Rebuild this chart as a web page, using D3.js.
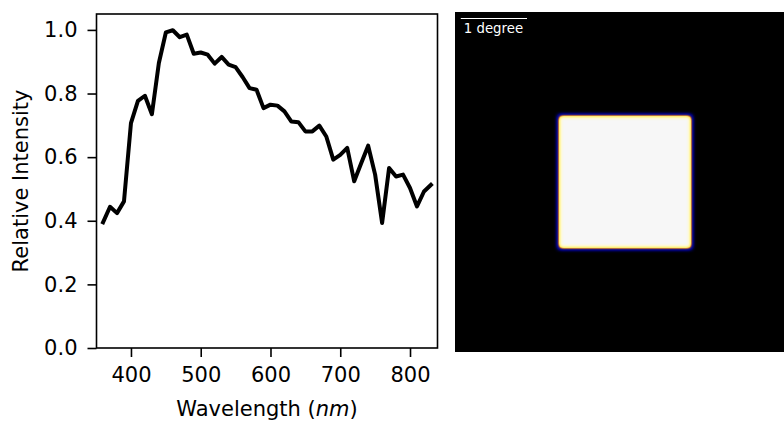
<!DOCTYPE html>
<html>
<head>
<meta charset="utf-8">
<script src="https://cdn.jsdelivr.net/npm/d3@7"></script>
<style>
  body { margin: 0; background: #fff; }
  svg { display: block; font-family: "DejaVu Sans", sans-serif; }
</style>
</head>
<body>
<div id="vis"></div>
<script>
const FRAME_WIDTH = 784;
const FRAME_HEIGHT = 423;

// spectrum data (nm, relative intensity)
const wavelengths = [360, 370, 380, 390, 400, 410, 420, 430, 440, 450, 460, 470, 480, 490, 500,
  510, 520, 530, 540, 550, 560, 570, 580, 590, 600, 610, 620, 630, 640, 650, 660, 670, 680, 690,
  700, 710, 720, 730, 740, 750, 760, 770, 780, 790, 800, 810, 820, 830];
const intensity = [0.395, 0.444, 0.424, 0.461, 0.707, 0.777, 0.793, 0.735, 0.896, 0.992, 0.999, 0.977, 0.985, 0.925, 0.929,
  0.922, 0.894, 0.915, 0.891, 0.883, 0.852, 0.817, 0.812, 0.754, 0.765, 0.762, 0.744, 0.712, 0.710, 0.681, 0.681, 0.699, 0.665, 0.592,
  0.607, 0.629, 0.524, 0.581, 0.636, 0.545, 0.393, 0.566, 0.539, 0.545, 0.503, 0.445, 0.492, 0.513];
const xTicks = [400, 500, 600, 700, 800];
const yTicks = [0.0, 0.2, 0.4, 0.6, 0.8, 1.0];

// stimulus image, in degrees of visual angle
const fieldDeg = [-2.56, 2.56];
const squareDeg = [-1, 1];
const scaleBarDeg = [-2.48, -1.48];
const scaleBarLabel = '1 degree';

const PLOT = {left: 96.5, right: 437.5, top: 14, bottom: 348};
const IMG = {left: 455.5, top: 12.5, size: 339};
const FONT = '21px';

const svg = d3.select('#vis')
  .append('svg')
    .attr('width', FRAME_WIDTH)
    .attr('height', FRAME_HEIGHT);

// ---- left: spectrum ----
const X_SCALE = d3.scaleLinear().domain([350.6, 839.4]).range([PLOT.left, PLOT.right]);
const Y_SCALE = d3.scaleLinear().domain([0, 1.05]).range([PLOT.bottom, PLOT.top]);

const line = d3.line()
  .x((d, i) => X_SCALE(wavelengths[i]))
  .y(d => Y_SCALE(d));

svg.append('path')
  .datum(intensity)
  .attr('d', line)
  .attr('fill', 'none')
  .attr('stroke', '#000')
  .attr('stroke-width', 4)
  .attr('stroke-linejoin', 'round')
  .attr('stroke-linecap', 'square');

const xAxis = svg.append('g')
  .attr('transform', 'translate(0,' + PLOT.bottom + ')')
  .call(d3.axisBottom(X_SCALE).tickValues(xTicks).tickSize(9).tickPadding(10));

const yAxis = svg.append('g')
  .attr('transform', 'translate(' + PLOT.left + ',0)')
  .call(d3.axisLeft(Y_SCALE).tickValues(yTicks).tickFormat(d3.format('.1f')).tickSize(9).tickPadding(10));

[xAxis, yAxis].forEach(g => {
  g.select('.domain').remove();
  g.selectAll('line').attr('stroke', '#000').attr('stroke-width', 1.6);
  g.selectAll('text')
    .attr('fill', '#000')
    .attr('font-size', FONT)
    .attr('font-family', '"DejaVu Sans", sans-serif');
});

// frame
svg.append('rect')
  .attr('x', PLOT.left).attr('y', PLOT.top)
  .attr('width', PLOT.right - PLOT.left)
  .attr('height', PLOT.bottom - PLOT.top)
  .attr('fill', 'none')
  .attr('stroke', '#000')
  .attr('stroke-width', 1.6);

const xLabel = svg.append('text')
  .attr('x', (PLOT.left + PLOT.right) / 2)
  .attr('y', 416)
  .attr('text-anchor', 'middle')
  .attr('font-size', FONT);
xLabel.append('tspan').text('Wavelength (');
xLabel.append('tspan').attr('font-style', 'italic').text('nm');
xLabel.append('tspan').text(')');

svg.append('text')
  .attr('transform', 'translate(28,' + (PLOT.top + PLOT.bottom) / 2 + ') rotate(-90)')
  .attr('text-anchor', 'middle')
  .attr('font-size', FONT)
  .text('Relative Intensity');

// ---- right: stimulus image ----
const DEG_X = d3.scaleLinear().domain(fieldDeg).range([IMG.left, IMG.left + IMG.size]);
const DEG_Y = d3.scaleLinear().domain(fieldDeg).range([IMG.top + IMG.size, IMG.top]);

// colour map applied to the blurred luminance: black -> navy -> orange -> pale yellow -> white
const cmapStops = ['#000000', '#000068', '#0c0c88', '#603060', '#e09030', '#fff07a', '#fff5a0', '#fffad0', '#f7f7f7'];
const cmapRGB = cmapStops.map(c => d3.rgb(c));
const table = k => cmapRGB.map(c => (c[k] / 255).toFixed(3)).join(' ');

const filter = svg.append('defs').append('filter')
  .attr('id', 'stim')
  .attr('filterUnits', 'userSpaceOnUse')
  .attr('x', IMG.left).attr('y', IMG.top)
  .attr('width', IMG.size).attr('height', IMG.size)
  .attr('color-interpolation-filters', 'sRGB');
filter.append('feGaussianBlur').attr('in', 'SourceGraphic').attr('stdDeviation', 2.2).attr('result', 'blur');
filter.append('feFlood').attr('flood-color', '#000').attr('result', 'bg');
const merge = filter.append('feMerge').attr('result', 'lum');
merge.append('feMergeNode').attr('in', 'bg');
merge.append('feMergeNode').attr('in', 'blur');
const ct = filter.append('feComponentTransfer').attr('in', 'lum');
ct.append('feFuncR').attr('type', 'table').attr('tableValues', table('r'));
ct.append('feFuncG').attr('type', 'table').attr('tableValues', table('g'));
ct.append('feFuncB').attr('type', 'table').attr('tableValues', table('b'));

svg.append('rect')
  .attr('x', DEG_X(squareDeg[0]))
  .attr('y', DEG_Y(squareDeg[1]))
  .attr('width', DEG_X(squareDeg[1]) - DEG_X(squareDeg[0]))
  .attr('height', DEG_Y(squareDeg[0]) - DEG_Y(squareDeg[1]))
  .attr('fill', '#fff')
  .attr('filter', 'url(#stim)');

// scale bar
svg.append('line')
  .attr('x1', DEG_X(scaleBarDeg[0])).attr('x2', DEG_X(scaleBarDeg[1]))
  .attr('y1', 18.5).attr('y2', 18.5)
  .attr('stroke', '#fff')
  .attr('stroke-width', 1.2);

svg.append('text')
  .attr('x', DEG_X(scaleBarDeg[0]) + 3)
  .attr('y', 33)
  .attr('fill', '#fff')
  .attr('font-size', '13.3px')
  .text(scaleBarLabel);
</script>
</body>
</html>
